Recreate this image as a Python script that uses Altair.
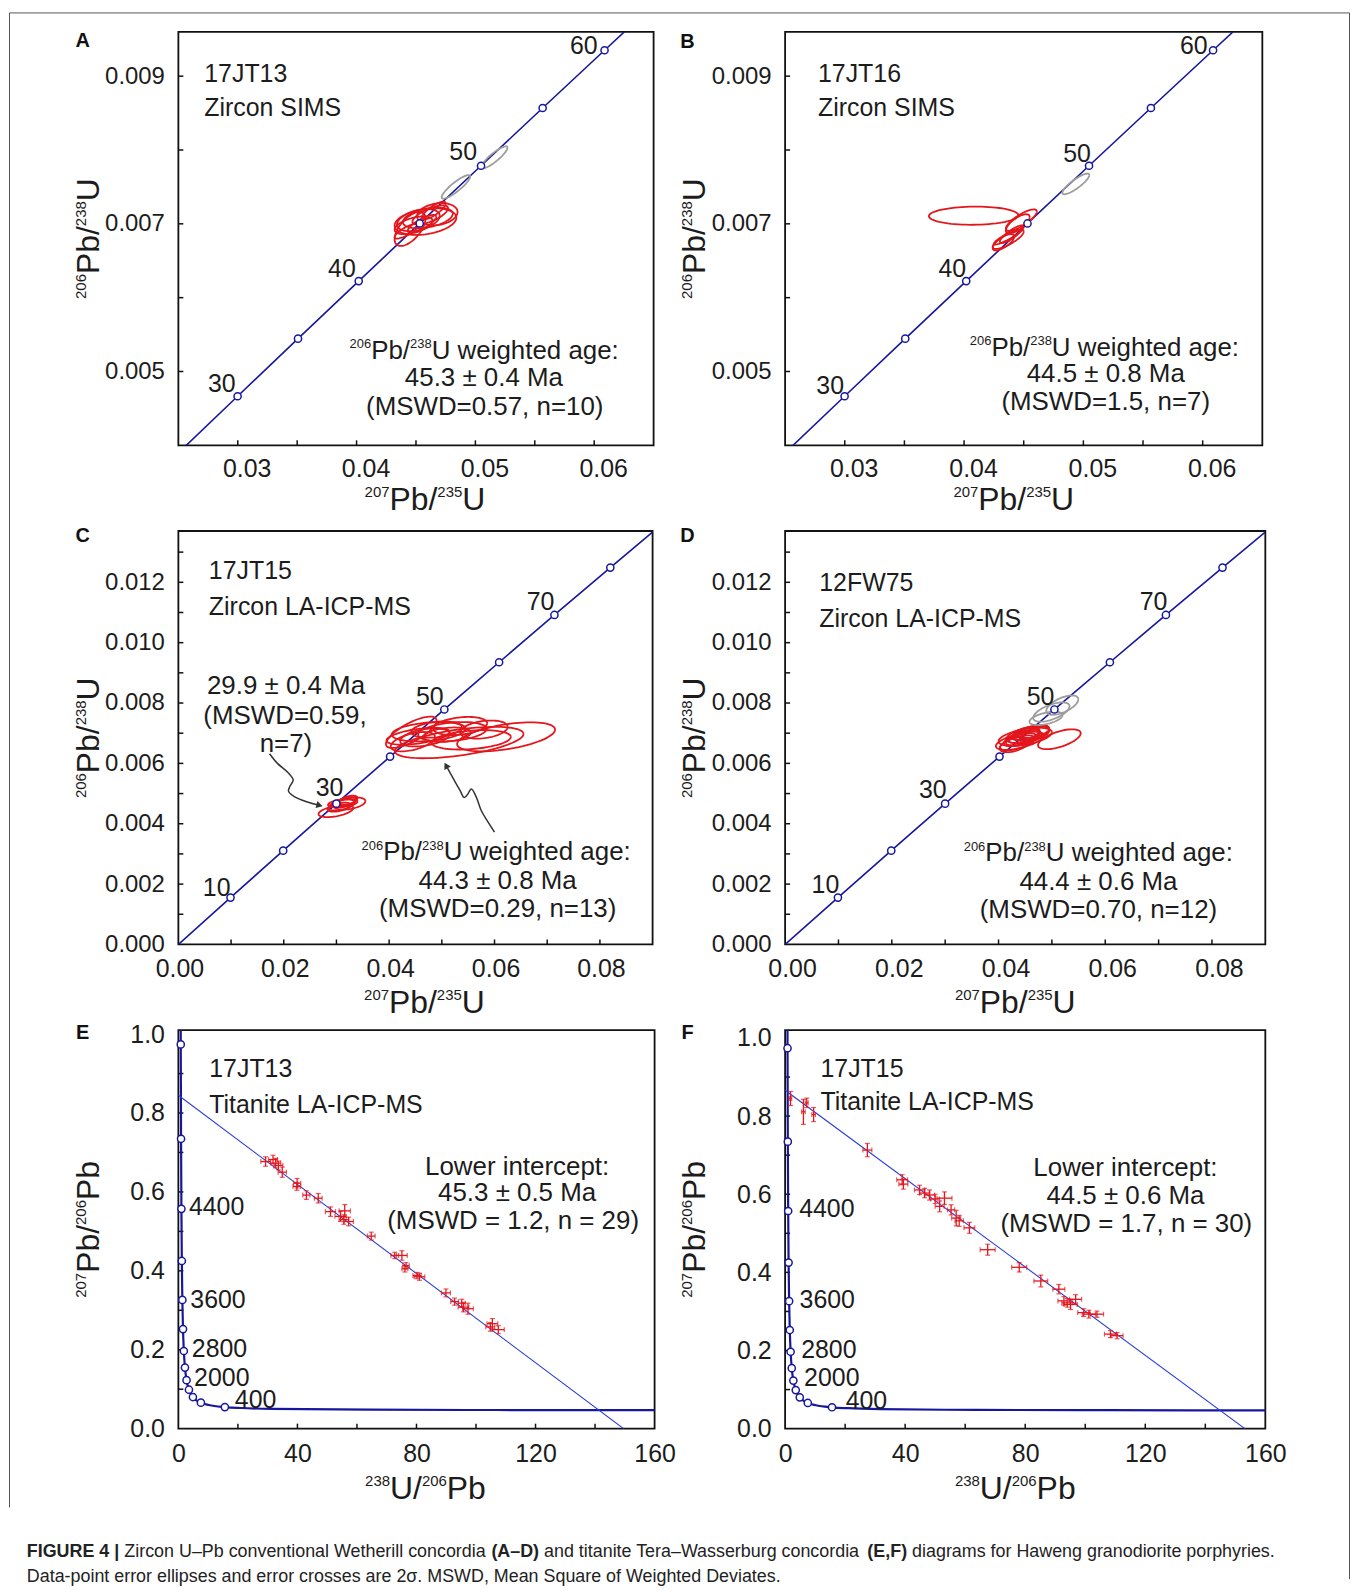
import altair as alt
import numpy as np
import pandas as pd

FONT = "Liberation Sans"
TXT = "#1c1c1c"
NAVY = "#17179e"
RED = "#e3161c"
GRAY = "#9c9c9c"
BLUE = "#2b3dd8"
ARROW = "#333333"

# ---------------- Wetherill concordia (panels A-D) ----------------
wc_age = [0, 10, 20, 25, 30, 35, 40, 45, 50, 55, 60, 65, 70, 80, 90]
wc_x = [0.0, 0.009897, 0.019892, 0.024927, 0.029986, 0.035071, 0.040180, 0.045315,
        0.050475, 0.055661, 0.060872, 0.066109, 0.071371, 0.081975, 0.092683]
wc_y = [0.0, 0.0015525, 0.0031073, 0.0038857, 0.0046646, 0.0054442, 0.0062243, 0.0070050,
        0.0077864, 0.0085684, 0.0093509, 0.0101341, 0.0109179, 0.0124873, 0.0140590]
ab_marks = [30, 35, 40, 45, 50, 55, 60]
cd_marks = [10, 20, 30, 40, 50, 60, 70, 80]

# ---------------- Tera-Wasserburg concordia (panels E, F) ----------------
tw_age = [5400, 5200, 4800, 4400, 4000, 3600, 3200, 2800, 2400, 2000, 1600, 1200, 800, 600,
          400, 300, 200, 100, 60, 40]
tw_x = [0.76278, 0.80620, 0.90449, 1.02154, 1.16298, 1.33697, 1.55570, 1.83837, 2.21696,
        2.74901, 3.54963, 4.88759, 7.56830, 10.2518, 15.6211, 20.992, 31.735, 63.967, 106.94, 160.66]
tw_y = [1.1231, 0.97378, 0.73463, 0.55713, 0.42501, 0.32635, 0.25242, 0.19682, 0.15483,
        0.12299, 0.09871, 0.08012, 0.06580, 0.05990, 0.05470, 0.052333, 0.050108, 0.048016,
        0.047213, 0.046819]
tw_marks = [5200, 4800, 4400, 4000, 3600, 3200, 2800, 2400, 2000, 1600, 1200, 800, 400]

# ---------------- error ellipses (centre, half-widths, correlation) ----------------
a_cx = [0.0458, 0.0445, 0.0452, 0.0462, 0.0468, 0.0455, 0.0465, 0.0448, 0.0460, 0.0442, 0.04836, 0.0516]
a_cy = [0.00703, 0.00693, 0.00705, 0.00712, 0.00713, 0.00700, 0.00718, 0.00698, 0.00708, 0.00690, 0.00750, 0.00790]
a_rx = [0.0026, 0.0013, 0.0018, 0.0015, 0.0017, 0.0012, 0.0010, 0.0016, 0.0021, 0.0010, 0.0012, 0.0011]
a_ry = [0.00018, 0.00023, 0.00015, 0.00013, 0.00015, 0.00012, 0.00012, 0.00012, 0.00014, 0.00010, 0.000160, 0.000150]
a_rho = [0.30, 0.60, 0.40, 0.70, 0.20, 0.80, 0.80, 0.50, 0.40, 0.80, 0.88, 0.88]
a_kind = ["red"] * 10 + ["gray"] * 2

b_cx = [0.0408, 0.0448, 0.0445, 0.0437, 0.0433, 0.0440, 0.0436, 0.04937]
b_cy = [0.00711, 0.00705, 0.00700, 0.00679, 0.00675, 0.00686, 0.00682, 0.00754]
b_rx = [0.00375, 0.0013, 0.0010, 0.0013, 0.0009, 0.0010, 0.0011, 0.00113]
b_ry = [0.000123, 0.000145, 0.00013, 0.00013, 0.00011, 0.00012, 0.00010, 0.00014]
b_rho = [0.05, 0.80, 0.70, 0.80, 0.70, 0.85, 0.90, 0.86]
b_kind = ["red"] * 7 + ["gray"]

c_cx = [0.0622, 0.0533, 0.0442, 0.0475, 0.0535, 0.0580, 0.0468, 0.0445, 0.0490, 0.0556, 0.0510, 0.0455, 0.0520,
        0.0299, 0.0325, 0.0310, 0.0318, 0.0305, 0.0322, 0.0312]
c_cy = [0.00688, 0.00669, 0.00703, 0.00705, 0.00724, 0.00712, 0.00686, 0.00672, 0.00712, 0.00678, 0.00695, 0.00690, 0.00705,
        0.00442, 0.00467, 0.00462, 0.00472, 0.00455, 0.00478, 0.00468]
c_rx = [0.0093, 0.0122, 0.0048, 0.0070, 0.0051, 0.0045, 0.0047, 0.0042, 0.0048, 0.0075, 0.0045, 0.0060, 0.0065,
        0.0033, 0.0030, 0.0025, 0.0020, 0.0022, 0.0018, 0.0028]
c_ry = [0.00048, 0.00052, 0.00052, 0.00032, 0.00030, 0.00030, 0.00030, 0.00032, 0.00027, 0.00032, 0.00024, 0.00028, 0.00032,
        0.00020, 0.00020, 0.00018, 0.00016, 0.00015, 0.00015, 0.00014]
c_rho = [0.5, 0.55, 0.75, 0.3, 0.3, 0.3, 0.4, 0.5, 0.3, 0.3, 0.3, 0.5, 0.3, 0.5, 0.4, 0.5, 0.5, 0.5, 0.5, 0.4]
c_kind = ["red"] * 20

d_cx = [0.0514, 0.0450, 0.0440, 0.0455, 0.0445, 0.0460, 0.0435, 0.0448, 0.0465, 0.0430, 0.0452, 0.0442, 0.05195, 0.0499, 0.0489]
d_cy = [0.00680, 0.00688, 0.00675, 0.00695, 0.00682, 0.00700, 0.00668, 0.00690, 0.00705, 0.00662, 0.00698, 0.00680, 0.00793, 0.00770, 0.00749]
d_rx = [0.0040, 0.0050, 0.0045, 0.0040, 0.0035, 0.0035, 0.0032, 0.0030, 0.0030, 0.0028, 0.0025, 0.0028, 0.0030, 0.0034, 0.0031]
d_ry = [0.00033, 0.00030, 0.00030, 0.00028, 0.00025, 0.00025, 0.00025, 0.00022, 0.00022, 0.00025, 0.00020, 0.00020, 0.00032, 0.00032, 0.00022]
d_rho = [0.6, 0.5, 0.6, 0.5, 0.6, 0.5, 0.6, 0.6, 0.5, 0.5, 0.5, 0.6, 0.6, 0.6, 0.5]
d_kind = ["red"] * 12 + ["gray"] * 3

# ---------------- titanite error crosses ----------------
e_x = [29.3, 31.8, 32.7, 33.6, 34.9, 39.9, 39.8, 43.0, 47.0, 51.1, 54.5, 55.9, 55.6, 57.2, 64.8, 72.7, 75.1, 76.5,
       76.1, 80.2, 81.0, 89.9, 92.8, 95.8, 97.3, 95.2, 105.5, 107.5, 104.8]
e_y = [0.677, 0.682, 0.673, 0.667, 0.650, 0.622, 0.614, 0.592, 0.584, 0.550, 0.538, 0.552, 0.530, 0.525, 0.488, 0.439,
       0.439, 0.413, 0.405, 0.388, 0.385, 0.344, 0.322, 0.308, 0.304, 0.318, 0.266, 0.251, 0.258]
e_xe = [1.6, 1.5, 1.7, 1.5, 1.4, 1.2, 1.3, 1.2, 1.3, 1.7, 1.9, 1.9, 1.6, 1.6, 1.3, 1.3, 1.8, 1.1, 1.0, 1.4, 1.8, 1.5,
        1.3, 1.8, 1.8, 1.2, 1.8, 2.0, 1.5]
e_ye = [0.012, 0.011, 0.012, 0.011, 0.013, 0.012, 0.010, 0.011, 0.012, 0.012, 0.013, 0.016, 0.012, 0.011, 0.010, 0.008,
        0.012, 0.008, 0.008, 0.008, 0.009, 0.010, 0.009, 0.012, 0.014, 0.010, 0.013, 0.010, 0.011]

f_x = [1.8, 6.1, 7.2, 9.5, 27.4, 39.0, 39.4, 44.8, 46.5, 48.1, 53.1, 51.5, 55.3, 57.0, 61.4, 67.5, 78.0, 85.2, 91.2,
       92.9, 95.1, 96.8, 99.5, 101.2, 103.9, 108.4, 110.6, 50.0, 58.0, 94.0]
f_y = [0.845, 0.811, 0.834, 0.804, 0.713, 0.637, 0.626, 0.611, 0.603, 0.598, 0.590, 0.569, 0.560, 0.539, 0.514, 0.458,
       0.413, 0.378, 0.357, 0.327, 0.318, 0.331, 0.297, 0.293, 0.293, 0.242, 0.238, 0.588, 0.532, 0.322]
f_xe = [0.4, 0.6, 0.5, 0.6, 1.5, 1.8, 1.5, 1.7, 1.7, 1.7, 2.5, 1.5, 1.2, 1.5, 1.8, 2.5, 2.5, 2.3, 2.0, 2.0, 2.2, 2.0,
        2.0, 2.2, 2.2, 2.0, 2.0, 1.5, 1.4, 1.8]
f_ye = [0.018, 0.032, 0.012, 0.018, 0.017, 0.013, 0.013, 0.012, 0.012, 0.013, 0.016, 0.014, 0.013, 0.020, 0.014, 0.014,
        0.012, 0.015, 0.012, 0.011, 0.013, 0.012, 0.010, 0.010, 0.008, 0.009, 0.008, 0.012, 0.014, 0.011]

# discordia lines (end points)
e_disc_x = [0.0, 149.6]
e_disc_y = [0.845, 0.0]
f_disc_x = [0.0, 153.2]
f_disc_y = [0.866, 0.0]

# arrows in panel C (tail -> head), data coordinates
arr1_x = [0.01731, 0.01880, 0.02080, 0.02180, 0.02120, 0.02090, 0.02200, 0.02450, 0.02660]
arr1_y = [0.00632, 0.00600, 0.00570, 0.00545, 0.00525, 0.00508, 0.00490, 0.00472, 0.00462]
arr2_x = [0.0600, 0.0586, 0.0575, 0.0565, 0.0556, 0.0548, 0.0542, 0.0535, 0.0520, 0.0509]
arr2_y = [0.00372, 0.00410, 0.00443, 0.00490, 0.00515, 0.00495, 0.00487, 0.00509, 0.00555, 0.00590]

# ---------------- text metrics (Arial / Liberation Sans) ----------------
AR = {' ': 278, '(': 333, ')': 333, ',': 278, '-': 333, '.': 278, '/': 278, ':': 278, '=': 584, '|': 260,
      '–': 556, '±': 549, 'σ': 571,
      'A': 667, 'B': 667, 'C': 722, 'D': 722, 'E': 667, 'F': 611, 'G': 778, 'H': 722, 'I': 278, 'J': 500,
      'K': 667, 'L': 556, 'M': 833, 'N': 722, 'O': 778, 'P': 667, 'Q': 778, 'R': 722, 'S': 667, 'T': 611,
      'U': 722, 'V': 667, 'W': 944, 'X': 667, 'Y': 667, 'Z': 611,
      'a': 556, 'b': 556, 'c': 500, 'd': 556, 'e': 556, 'f': 278, 'g': 556, 'h': 556, 'i': 222, 'j': 222,
      'k': 500, 'l': 222, 'm': 833, 'n': 556, 'o': 556, 'p': 556, 'q': 556, 'r': 333, 's': 500, 't': 278,
      'u': 556, 'v': 500, 'w': 722, 'x': 500, 'y': 500, 'z': 500}
ARB = {'A': 722, 'B': 722, 'C': 722, 'D': 722, 'E': 667, 'F': 611, 'G': 778, 'I': 278, 'R': 722, 'U': 722,
       '|': 280, '(': 333, ')': 333, ',': 278, '–': 556, ' ': 278}


def tw(s, size, bold=False):
    tab = ARB if bold else {}
    return sum(tab.get(c, AR.get(c, 556)) for c in s) / 1000.0 * size


ONE = pd.DataFrame({"k": [0]})


def txt(s, x, y, size=25, align="left", bold=False, angle=None, font=FONT, color=TXT):
    kw = dict(text=s, align=align, baseline="alphabetic", fontSize=size, font=font, color=color)
    if bold:
        kw["fontWeight"] = "bold"
    if angle:
        kw["angle"] = angle
    return alt.Chart(ONE).mark_text(**kw).encode(x=alt.value(x), y=alt.value(y))


def sup_text(parts, c, base, size, ssize, rise, rotate=False):
    widths = [tw(p, ssize if s else size) for p, s in parts]
    off = -sum(widths) / 2.0
    out = []
    for (p, s), w in zip(parts, widths):
        fs = ssize if s else size
        b = base - (rise if s else 0)
        if rotate:
            out.append(txt(p, b, c - off, fs, angle=270))
        else:
            out.append(txt(p, c + off, b, fs))
        off += w
    return out


def ellipse_df(cx, cy, rx, ry, rho, kind):
    t = np.linspace(0, 2 * np.pi, 73)
    frames = []
    for k in range(len(cx)):
        ex = cx[k] + rx[k] * np.cos(t)
        ey = cy[k] + ry[k] * (rho[k] * np.cos(t) + np.sqrt(1 - rho[k] ** 2) * np.sin(t))
        frames.append(pd.DataFrame({"id": k, "i": np.arange(len(t)), "x": ex, "y": ey, "kind": kind[k]}))
    return pd.concat(frames, ignore_index=True)


AX = dict(labelFont=FONT, labelColor=TXT, domain=False, ticks=False, tickSize=0,
          grid=False, title=None, labelFlush=False, labelOverlap=False)

AGE_PARTS = [("206", True), ("Pb/", False), ("238", True), ("U weighted age:", False)]


def panel(sp):
    W, H = sp["w"], sp["h"]
    xs = alt.Scale(domain=sp["xdom"], nice=False, zero=False)
    ys = alt.Scale(domain=sp["ydom"], nice=False, zero=False)
    xa = alt.Axis(values=sp["xlab"], format=sp["xfmt"], labelPadding=sp["xpad"], labelFontSize=25,
                  labelOffset=sp["xoff"], **AX)
    ya = alt.Axis(values=sp["ylab"], format=sp["yfmt"], labelPadding=14, labelFontSize=sp["ylfs"], **AX)

    def X(f):
        return alt.X(f + ":Q", scale=xs, axis=xa)

    def Y(f):
        return alt.Y(f + ":Q", scale=ys, axis=ya)

    L = []
    L.append(alt.Chart(pd.DataFrame({"x": sp["xtk"]})).mark_rule(color="#111", strokeWidth=1.5)
             .encode(x=X("x"), y=alt.value(H), y2=alt.value(H - 5)))
    L.append(alt.Chart(pd.DataFrame({"y": sp["ytk"]})).mark_rule(color="#111", strokeWidth=1.5)
             .encode(y=Y("y"), x=alt.value(0), x2=alt.value(5)))

    if sp["kind"] == "wetherill":
        cdf = pd.DataFrame({"x": wc_x, "y": wc_y})
        L.append(alt.Chart(cdf).mark_line(color=NAVY, strokeWidth=1.6, clip=True).encode(x=X("x"), y=Y("y")))
        edf = ellipse_df(*sp["ell"])
        L.append(alt.Chart(edf).mark_line(strokeWidth=1.8, clip=True).encode(
            x=X("x"), y=Y("y"), detail="id:N", order="i:Q",
            color=alt.Color("kind:N", scale=alt.Scale(domain=["red", "gray"], range=[RED, GRAY]), legend=None)))
        mx = [wc_x[wc_age.index(a)] for a in sp["marks"]]
        my = [wc_y[wc_age.index(a)] for a in sp["marks"]]
        getp = lambda a: (wc_x[wc_age.index(a)], wc_y[wc_age.index(a)])
        lab_align = "right"
    else:
        cdf = pd.DataFrame({"x": tw_x, "y": tw_y})
        L.append(alt.Chart(cdf).mark_line(color=NAVY, strokeWidth=2.2, clip=True, interpolate="monotone")
                 .encode(x=X("x"), y=Y("y")))
        ddf = pd.DataFrame({"x": sp["disc"][0], "y": sp["disc"][1]})
        L.append(alt.Chart(ddf).mark_line(color=BLUE, strokeWidth=1.1, clip=True).encode(x=X("x"), y=Y("y")))
        cx, cy, cxe, cye = sp["cross"]
        xdf = pd.DataFrame({"x": cx, "y": cy,
                            "xlo": [a - b for a, b in zip(cx, cxe)], "xhi": [a + b for a, b in zip(cx, cxe)],
                            "ylo": [a - b for a, b in zip(cy, cye)], "yhi": [a + b for a, b in zip(cy, cye)]})
        L.append(alt.Chart(xdf).mark_rule(color=RED, strokeWidth=1.3).encode(x=X("xlo"), x2="xhi", y=Y("y")))
        L.append(alt.Chart(xdf).mark_rule(color=RED, strokeWidth=1.3).encode(x=X("x"), y=Y("ylo"), y2="yhi"))
        for f in ["xlo", "xhi"]:
            L.append(alt.Chart(xdf).mark_tick(color=RED, orient="vertical", size=5, thickness=1.2)
                     .encode(x=X(f), y=Y("y")))
        for f in ["ylo", "yhi"]:
            L.append(alt.Chart(xdf).mark_tick(color=RED, orient="horizontal", size=5, thickness=1.2)
                     .encode(x=X("x"), y=Y(f)))
        mx = [tw_x[tw_age.index(a)] for a in sp["marks"]]
        my = [tw_y[tw_age.index(a)] for a in sp["marks"]]
        getp = lambda a: (tw_x[tw_age.index(a)], tw_y[tw_age.index(a)])
        lab_align = "left"

    if "arrows" in sp:
        for (ax_, ay_, ang) in sp["arrows"]:
            adf = pd.DataFrame({"x": ax_, "y": ay_, "i": list(range(len(ax_)))})
            L.append(alt.Chart(adf).mark_line(color=ARROW, strokeWidth=1.5, interpolate="catmull-rom")
                     .encode(x=X("x"), y=Y("y"), order="i:Q"))
            hdf = pd.DataFrame({"x": [ax_[-1]], "y": [ay_[-1]]})
            L.append(alt.Chart(hdf).mark_point(shape="triangle", filled=True, color=ARROW, size=55,
                                               angle=ang, opacity=1).encode(x=X("x"), y=Y("y")))

    mdf = pd.DataFrame({"x": mx, "y": my})
    L.append(alt.Chart(mdf).mark_circle(fill="white", stroke=NAVY, strokeWidth=1.5, size=52, opacity=1)
             .encode(x=X("x"), y=Y("y")))
    for (t, age, dx, dy) in sp["labels"]:
        px, py = getp(age)
        ldf = pd.DataFrame({"x": [px], "y": [py], "t": [t]})
        L.append(alt.Chart(ldf).mark_text(align=lab_align, baseline="alphabetic", dx=dx, dy=dy + 9,
                                          fontSize=25, font=FONT, color=TXT)
                 .encode(x=X("x"), y=Y("y"), text="t:N"))

    for (s, x, yc) in sp["left_texts"]:
        L.append(txt(s, x, yc + 9, 25))
    for (s, x, yc) in sp["center_texts"]:
        L.append(txt(s, x, yc + 9.3, 26, align="center"))
    if "age_sup" in sp:
        cxp, cyp = sp["age_sup"]
        L += sup_text(AGE_PARTS, cxp, cyp + 9.3, 26, 13, 10.3)

    L += sup_text(sp["xtitle"], W / 2.0 + sp["xt_shift"], H + sp["xt_base"], 32, 15, 13)
    L += sup_text(sp["ytitle"], H / 2.0, -80, 32, 15, 13, rotate=True)
    L.append(txt(sp["letter"], sp["letter_x"], sp["letter_y"] + 7.2, 20, align="center", bold=True, color="#111"))

    L += sp.get("extra", [])
    return alt.layer(*L).properties(width=W, height=H)


XT_WC = [("207", True), ("Pb/", False), ("235", True), ("U", False)]
YT_WC = [("206", True), ("Pb/", False), ("238", True), ("U", False)]
XT_TW = [("238", True), ("U/", False), ("206", True), ("Pb", False)]
YT_TW = [("207", True), ("Pb/", False), ("206", True), ("Pb", False)]

ab_common = dict(kind="wetherill", h=415, xdom=[0.025, 0.065], ydom=[0.004, 0.0096],
                 xlab=[0.03, 0.04, 0.05, 0.06], xfmt=".2f", ylab=[0.005, 0.007, 0.009], yfmt=".3f",
                 xtk=[0.03, 0.035, 0.04, 0.045, 0.05, 0.055, 0.06], ytk=[0.005, 0.006, 0.007, 0.008, 0.009],
                 xpad=11, xoff=9, ylfs=24, marks=ab_marks, xtitle=XT_WC, ytitle=YT_WC, xt_base=65)
cd_common = dict(kind="wetherill", h=415, xdom=[0.0, 0.09], ydom=[0.0, 0.0137],
                 xlab=[0.0, 0.02, 0.04, 0.06, 0.08], xfmt=".2f",
                 ylab=[0.0, 0.002, 0.004, 0.006, 0.008, 0.010, 0.012], yfmt=".3f",
                 xtk=[0.01, 0.02, 0.03, 0.04, 0.05, 0.06, 0.07, 0.08],
                 ytk=[0.001, 0.002, 0.003, 0.004, 0.005, 0.006, 0.007, 0.008, 0.009, 0.010, 0.011, 0.012, 0.013],
                 xpad=12, ylfs=24, marks=cd_marks, xtitle=XT_WC, ytitle=YT_WC, xt_base=69)
ef_common = dict(kind="tw", h=400, xdom=[0, 160],
                 xlab=[0, 40, 80, 120, 160], xfmt="d",
                 ylab=[0.0, 0.2, 0.4, 0.6, 0.8, 1.0], yfmt=".1f",
                 xtk=[20, 40, 60, 80, 100, 120, 140],
                 ytk=[0.1, 0.2, 0.3, 0.4, 0.5, 0.6, 0.7, 0.8, 0.9],
                 xpad=13, xoff=0, ylfs=25, marks=tw_marks, xtitle=XT_TW, ytitle=YT_TW, xt_base=71)

# ---------- figure border and caption (placed relative to panel A) ----------
A_LEFT, A_TOP = 177.5, 27.0
extra = []
extra.append(alt.Chart(ONE).mark_rule(color="#555", strokeWidth=1).encode(
    x=alt.value(8 - A_LEFT), x2=alt.value(1353 - A_LEFT), y=alt.value(8 - A_TOP), y2=alt.value(8 - A_TOP)))
extra.append(alt.Chart(ONE).mark_rule(color="#555", strokeWidth=1).encode(
    x=alt.value(8 - A_LEFT), y=alt.value(8 - A_TOP), y2=alt.value(1508 - A_TOP)))
extra.append(alt.Chart(ONE).mark_rule(color="#555", strokeWidth=1).encode(
    x=alt.value(1353 - A_LEFT), y=alt.value(8 - A_TOP), y2=alt.value(1580 - A_TOP)))

cap1 = [("FIGURE 4 |", True), ("Zircon U–Pb conventional Wetherill concordia", False), ("(A–D)", True),
        ("and titanite Tera–Wasserburg concordia", False), ("(E,F)", True),
        ("diagrams for Haweng granodiorite porphyries.", False)]
cap2 = "Data-point error ellipses and error crosses are 2σ. MSWD, Mean Square of Weighted Deviates."
em_total = sum(tw(p, 1, b) for p, b in cap1) + tw(" ", 1) * (len(cap1) - 1)
cap_fs = 1253.0 / em_total
xc = 25.4 - A_LEFT
for p, b in cap1:
    extra.append(txt(p, xc, 1558 - A_TOP, cap_fs, bold=b, color="#222"))
    xc += tw(p, cap_fs, b) + tw(" ", cap_fs)
extra.append(txt(cap2, 25.4 - A_LEFT, 1583 - A_TOP, cap_fs, color="#222"))

pA = panel(dict(ab_common, w=477, letter="A", letter_x=-96, letter_y=8,
                ell=(a_cx, a_cy, a_rx, a_ry, a_rho, a_kind),
                labels=[("30", 30, -2, -13), ("40", 40, -3, -12.7), ("50", 50, -4, -15), ("60", 60, -7, -4.8)],
                left_texts=[("17JT13", 26, 41), ("Zircon SIMS", 26, 75.7)],
                center_texts=[("45.3 ± 0.4 Ma", 306.7, 346.3), ("(MSWD=0.57, n=10)", 307.5, 374.8)],
                age_sup=(307, 318.8), xt_shift=9, extra=extra))
pB = panel(dict(ab_common, w=479, letter="B", letter_x=-98, letter_y=8.6,
                ell=(b_cx, b_cy, b_rx, b_ry, b_rho, b_kind),
                labels=[("30", 30, -0.6, -11.2), ("40", 40, 0, -12.7), ("50", 50, 1.8, -13), ("60", 60, -5.5, -4.8)],
                left_texts=[("17JT16", 33, 41), ("Zircon SIMS", 33, 75.7)],
                center_texts=[("44.5 ± 0.8 Ma", 321.8, 342), ("(MSWD=1.5, n=7)", 321.8, 370.7)],
                age_sup=(320.5, 315.8), xt_shift=-10))
pC = panel(dict(cd_common, w=476, xoff=1, letter="C", letter_x=-96, letter_y=4,
                ell=(c_cx, c_cy, c_rx, c_ry, c_rho, c_kind),
                labels=[("10", 10, 0, -10.6), ("30", 30, 7, -16.3), ("50", 50, -0.7, -13.4), ("70", 70, 0, -13.5)],
                left_texts=[("17JT15", 30.6, 39.6), ("Zircon LA-ICP-MS", 30.6, 75.2)],
                center_texts=[("29.9 ± 0.4 Ma", 108, 154.6), ("(MSWD=0.59,", 107, 184), ("n=7)", 108, 212.5),
                              ("44.3 ± 0.8 Ma", 320.5, 350), ("(MSWD=0.29, n=13)", 320.5, 378)],
                age_sup=(319, 321.4), xt_shift=9,
                arrows=[(arr1_x, arr1_y, 105), (arr2_x, arr2_y, 331)]))
pD = panel(dict(cd_common, w=482, xoff=7, letter="D", letter_x=-98, letter_y=4,
                ell=(d_cx, d_cy, d_rx, d_ry, d_rho, d_kind),
                labels=[("10", 10, 1.4, -13.3), ("30", 30, 1.6, -14.7), ("50", 50, 0, -13.7), ("70", 70, 1.4, -13.5)],
                left_texts=[("12FW75", 34.3, 51.5), ("Zircon LA-ICP-MS", 34.3, 87)],
                center_texts=[("44.4 ± 0.6 Ma", 314.5, 350.6), ("(MSWD=0.70, n=12)", 314.5, 379)],
                age_sup=(314.4, 322), xt_shift=-10))
pE = panel(dict(ef_common, w=478, ydom=[0, 1.01], letter="E", letter_x=-96, letter_y=1.5,
                disc=(e_disc_x, e_disc_y), cross=(e_x, e_y, e_xe, e_ye),
                labels=[("4400", 4400, 7.5, -2.6), ("3600", 3600, 8, -1), ("2800", 2800, 8, -3.4),
                        ("2000", 2000, 7.6, -3), ("400", 400, 10, -7.7)],
                left_texts=[("17JT13", 31, 38), ("Titanite LA-ICP-MS", 31, 73.7)],
                center_texts=[("Lower intercept:", 340, 135.7), ("45.3 ± 0.5 Ma", 340, 162.2),
                              ("(MSWD = 1.2, n = 29)", 336, 190.7)],
                xt_shift=9))
pF = panel(dict(ef_common, w=482, ydom=[0, 1.02], letter="F", letter_x=-98, letter_y=1.5,
                disc=(f_disc_x, f_disc_y), cross=(f_x, f_y, f_xe, f_ye),
                labels=[("4400", 4400, 11, -3), ("3600", 3600, 10.5, -2), ("2800", 2800, 10.6, -3),
                        ("2000", 2000, 10.8, -3.4), ("400", 400, 13.7, -6.8)],
                left_texts=[("17JT15", 35.5, 38), ("Titanite LA-ICP-MS", 35.5, 71.6)],
                center_texts=[("Lower intercept:", 341.6, 136.7), ("44.5 ± 0.6 Ma", 341.6, 165),
                              ("(MSWD = 1.7, n = 30)", 342.5, 193.7)],
                xt_shift=-10))

chart = alt.concat(pA, pB, pC, pD, pE, pF, columns=2, spacing={"row": 86, "column": 131},
                   bounds="flush").properties(padding=0, background="white").configure_view(
    stroke="#111", strokeWidth=1.8)

chart.save("out.html", embed_options={"renderer": "svg", "actions": False})
